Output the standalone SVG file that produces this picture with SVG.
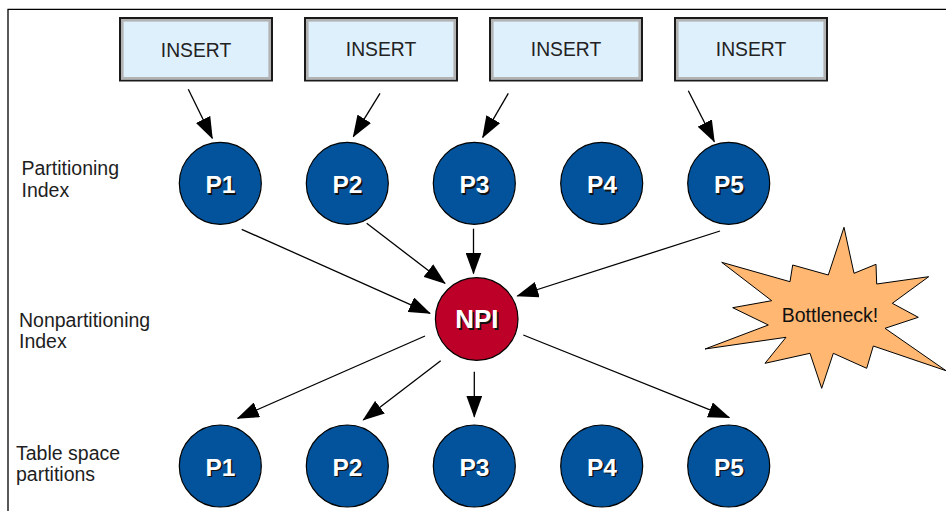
<svg xmlns="http://www.w3.org/2000/svg" width="946" height="511" viewBox="0 0 946 511">
<defs>
<marker id="ah" markerUnits="userSpaceOnUse" markerWidth="22" markerHeight="16" refX="21" refY="8" orient="auto">
<path d="M0,0 L22,8 L0,16 z" fill="#000"/>
</marker>
<style>
.frame{stroke:#000;stroke-width:1.3;fill:none}
.box{fill:#dff0fd;stroke:#1a1a1a;stroke-width:2}
.boxin{fill:none;stroke:#b3b3b3;stroke-width:2.6}
.btxt{font-family:"Liberation Sans",Arial,sans-serif;font-size:19.3px;fill:#222;text-anchor:middle}
.pc{fill:#02539b;stroke:#000;stroke-width:1.2}
.npi{fill:#bc0027;stroke:#000;stroke-width:1.2}
.pl{font-family:"Liberation Sans",Arial,sans-serif;font-weight:bold;font-size:24.5px;text-anchor:middle}
.big{font-size:26px}
.sh{fill:#111}
.fg{fill:#fff}
.lbl{font-family:"Liberation Sans",Arial,sans-serif;font-size:19.5px;fill:#1e1e1e}
.conn line{stroke:#000;stroke-width:1.3;marker-end:url(#ah)}
.star{fill:#ffb771;stroke:#000;stroke-width:1}
.stxt{font-family:"Liberation Sans",Arial,sans-serif;font-size:19.5px;fill:#111;text-anchor:middle}
</style>
</defs>
<rect width="946" height="511" fill="#fff"/>
<path class="frame" d="M8,511 L8,9.3 L946,9.3"/>

<g id="labels">
<text class="lbl" x="21.5" y="175">Partitioning</text>
<text class="lbl" x="21.5" y="197">Index</text>
<text class="lbl" x="19" y="327">Nonpartitioning</text>
<text class="lbl" x="19" y="348">Index</text>
<text class="lbl" x="16" y="459.5">Table space</text>
<text class="lbl" x="16" y="481">partitions</text>
</g>

<g id="insert1"><rect class="box" x="120" y="18" width="152" height="62.5"/><rect class="boxin" x="122.3" y="20.3" width="147.4" height="58"/><text class="btxt" x="196" y="56.5">INSERT</text></g>
<g id="insert2"><rect class="box" x="305" y="18" width="152" height="62.5"/><rect class="boxin" x="307.3" y="20.3" width="147.4" height="58"/><text class="btxt" x="381" y="55.5">INSERT</text></g>
<g id="insert3"><rect class="box" x="490" y="18" width="152" height="62.5"/><rect class="boxin" x="492.3" y="20.3" width="147.4" height="58"/><text class="btxt" x="566" y="55.5">INSERT</text></g>
<g id="insert4"><rect class="box" x="675" y="18" width="152" height="62.5"/><rect class="boxin" x="677.3" y="20.3" width="147.4" height="58"/><text class="btxt" x="751" y="55.5">INSERT</text></g>

<g class="conn" id="connectors">
<line x1="188.3" y1="89.3" x2="212.3" y2="138.3"/>
<line x1="380" y1="93.3" x2="353.3" y2="136.7"/>
<line x1="508.3" y1="93.3" x2="482.7" y2="137.3"/>
<line x1="688.3" y1="90.7" x2="714.3" y2="141.7"/>
<line x1="241.7" y1="229.3" x2="430" y2="313.3"/>
<line x1="366.7" y1="223.3" x2="445" y2="283.3"/>
<line x1="473.5" y1="228.7" x2="473.5" y2="273.5"/>
<line x1="720" y1="231" x2="517.3" y2="296"/>
<line x1="425" y1="336" x2="237.7" y2="418.3"/>
<line x1="440.7" y1="360.7" x2="363.3" y2="420"/>
<line x1="474.3" y1="371.7" x2="474.3" y2="416.7"/>
<line x1="523.3" y1="335" x2="729.3" y2="417.7"/>
</g>

<g id="pi1"><circle class="pc" cx="220.3" cy="183.3" r="41"/><text class="pl sh" x="222" y="194.5">P1</text><text class="pl fg" x="220.5" y="193">P1</text></g>
<g id="pi2"><circle class="pc" cx="347.3" cy="183.3" r="41"/><text class="pl sh" x="349" y="194.5">P2</text><text class="pl fg" x="347.5" y="193">P2</text></g>
<g id="pi3"><circle class="pc" cx="474.3" cy="183.3" r="41"/><text class="pl sh" x="476" y="194.5">P3</text><text class="pl fg" x="474.5" y="193">P3</text></g>
<g id="pi4"><circle class="pc" cx="601.7" cy="183.3" r="41"/><text class="pl sh" x="603.4" y="194.5">P4</text><text class="pl fg" x="601.9" y="193">P4</text></g>
<g id="pi5"><circle class="pc" cx="728.7" cy="183.3" r="41"/><text class="pl sh" x="730.4" y="194.5">P5</text><text class="pl fg" x="728.9" y="193">P5</text></g>

<g id="npi"><circle class="npi" cx="476.7" cy="319" r="41.3"/><text class="pl big sh" x="478.4" y="329.5">NPI</text><text class="pl big fg" x="476.9" y="328">NPI</text></g>

<g id="ts1"><circle class="pc" cx="220.3" cy="466" r="41"/><text class="pl sh" x="222" y="477">P1</text><text class="pl fg" x="220.5" y="475.5">P1</text></g>
<g id="ts2"><circle class="pc" cx="347.3" cy="466" r="41"/><text class="pl sh" x="349" y="477">P2</text><text class="pl fg" x="347.5" y="475.5">P2</text></g>
<g id="ts3"><circle class="pc" cx="474.3" cy="466" r="41"/><text class="pl sh" x="476" y="477">P3</text><text class="pl fg" x="474.5" y="475.5">P3</text></g>
<g id="ts4"><circle class="pc" cx="601.7" cy="466" r="41"/><text class="pl sh" x="603.4" y="477">P4</text><text class="pl fg" x="601.9" y="475.5">P4</text></g>
<g id="ts5"><circle class="pc" cx="728.7" cy="466" r="41"/><text class="pl sh" x="730.4" y="477">P5</text><text class="pl fg" x="728.9" y="475.5">P5</text></g>

<g id="bottleneck">
<polygon class="star" points="844,227.3 854,273.3 876,264.3 876.7,284 928.7,276.7 892.3,303.3 918.3,317.3 885,328.3 946,370.7 873.3,346 866.7,368.3 833.3,353.3 821.7,388.3 810,353.3 765,363.3 786,337.3 705,349 768.3,325 732.7,307.7 771.7,300.7 721.7,262.3 790,281.7 792.7,265 828.3,275"/>
<text class="stxt" x="830" y="321.5">Bottleneck!</text>
</g>
</svg>
